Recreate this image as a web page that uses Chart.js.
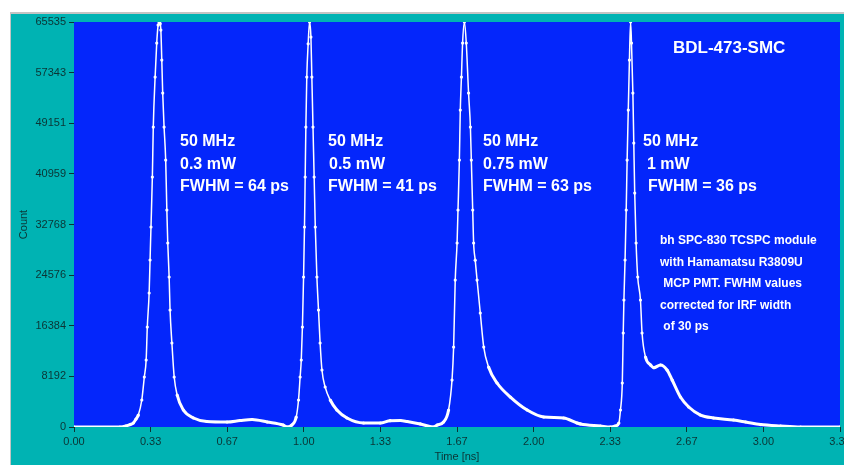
<!DOCTYPE html>
<html lang="en">
<head>
<meta charset="UTF-8">
<title>BDL-473-SMC pulse shape</title>
<script src="https://cdn.jsdelivr.net/npm/chart.js@4.4.1/dist/chart.umd.min.js"></script>
<style>
  html, body { margin: 0; padding: 0; background: #fff; }
  #wrap { width: 844px; height: 465px; }
</style>
</head>
<body>
<div id="wrap"><canvas id="pulse-chart" width="844" height="465"></canvas></div>
<script>
// time axis (ns) and photon counts (one line per pulse)
const timeNs = [
    0.000, 0.200, 0.226, 0.244, 0.258, 0.270, 0.280, 0.295, 0.306, 0.314, 0.319, 0.327, 0.331, 0.335, 0.341, 0.345,
    0.353, 0.360, 0.366, 0.370, 0.375, 0.378, 0.382, 0.386, 0.392, 0.399, 0.404, 0.408, 0.414, 0.418, 0.426, 0.436,
    0.449, 0.476, 0.520, 0.578, 0.666, 0.723, 0.775, 0.841, 0.910, 0.928,

    0.948, 0.967, 0.977, 0.984, 0.989, 0.994, 0.999, 1.003, 1.006, 1.009, 1.013, 1.019, 1.025, 1.031, 1.035, 1.040,
    1.045, 1.050, 1.057, 1.064, 1.071, 1.079, 1.093, 1.115, 1.144, 1.188, 1.260, 1.333, 1.376, 1.420, 1.450, 1.507, 1.564,

    1.580, 1.608, 1.630, 1.645, 1.652, 1.659, 1.667, 1.671, 1.677, 1.681, 1.686, 1.691, 1.699, 1.707, 1.717, 1.725,
    1.729, 1.735, 1.739, 1.746, 1.754, 1.768, 1.783, 1.804, 1.841, 1.899, 1.972, 2.044, 2.131, 2.189, 2.204, 2.291, 2.334,

    2.356, 2.371, 2.378, 2.386, 2.390, 2.393, 2.398, 2.403, 2.407, 2.412, 2.417, 2.422, 2.426, 2.432, 2.436, 2.440,
    2.446, 2.453, 2.465, 2.472, 2.487, 2.509, 2.523, 2.552, 2.581, 2.603, 2.639, 2.675, 2.726, 2.783, 2.870, 2.923,
    2.988, 3.075, 3.162, 3.333
];
const counts = [
    0, 0, 160, 400, 650, 1290, 1940, 4370, 8090, 10840, 16180, 21680, 27020, 32360, 40450, 48540,
    56630, 62130, 65040, 65535, 65200, 64230, 59380, 54040, 48540, 43200, 35110, 29770, 24270, 18930, 13590, 8090,
    5180, 2750, 1460, 890, 810, 1050, 1210, 810, 320, 0,

    320, 1620, 4370, 8090, 10840, 16180, 24270, 32360, 40450, 48540, 56630, 62000, 65535, 63100, 56630, 48540,
    40450, 32360, 24270, 18930, 13590, 9220, 6470, 4370, 2750, 1460, 650, 650, 1020, 1050, 890, 490, 0,

    320, 810, 2750, 7600, 12940, 23780, 29770, 35110, 43200, 51290, 56630, 62130, 65535, 62130, 54040, 48540,
    43200, 35110, 29770, 27000, 23780, 18450, 12940, 9710, 7120, 4850, 2750, 1620, 1460, 650, 490, 160, 0,

    160, 650, 2750, 7120, 15210, 20550, 27020, 35110, 43200, 51290, 59380, 65535, 62130, 54040, 45950, 37860,
    29770, 24270, 20550, 15210, 11330, 10030, 9590, 10030, 9220, 7600, 4850, 3240, 1940, 1460, 1130, 810,
    400, 160, 0, 0
];

const yTickValues = [0, 8192, 16384, 24576, 32768, 40959, 49151, 57343, 65535];
const yTickLabels = ['0', '8192', '16384', '24576', '32768', '40959', '49151', '57343', '65535'];
const xTickValues = [0, 1 / 3, 2 / 3, 1, 4 / 3, 5 / 3, 2, 7 / 3, 8 / 3, 3, 10 / 3];
const xTickLabels = ['0.00', '0.33', '0.67', '1.00', '1.33', '1.67', '2.00', '2.33', '2.67', '3.00', '3.33'];

const chartTitle = 'BDL-473-SMC';
const peakLabels = [
    ['50 MHz', '0.3 mW', 'FWHM = 64 ps'],
    ['50 MHz', '0.5 mW', 'FWHM = 41 ps'],
    ['50 MHz', '0.75 mW', 'FWHM = 63 ps'],
    ['50 MHz', '1 mW', 'FWHM = 36 ps']
];
const noteLines = [
    'bh SPC-830 TCSPC module',
    'with Hamamatsu R3809U',
    ' MCP PMT. FWHM values',
    'corrected for IRF width',
    ' of 30 ps'
];

const TEAL = '#00b3b3';
const PLOT_BLUE = '#0426fb';
const INK = '#0b3434';
const FONT = '"Liberation Sans", Arial, sans-serif';

// window frame + blue plot background
const framePlugin = {
    id: 'frame',
    beforeDraw(chart) {
        const { ctx, chartArea: a, width, height } = chart;
        ctx.save();
        ctx.fillStyle = '#fff';
        ctx.fillRect(0, 0, width, height);
        ctx.fillStyle = TEAL;
        ctx.fillRect(10, 12, width - 10, height - 12);
        ctx.fillStyle = '#c4c4c4';
        ctx.fillRect(10, 12, width - 10, 2);
        ctx.fillRect(10, 12, 1, height - 12);
        ctx.fillStyle = PLOT_BLUE;
        ctx.fillRect(a.left, a.top, a.right - a.left, a.bottom - a.top);
        ctx.restore();
    }
};

// white text written on the plot
const notesPlugin = {
    id: 'notes',
    afterDatasetsDraw(chart) {
        const ctx = chart.ctx;
        ctx.save();
        ctx.fillStyle = '#fff';
        ctx.textBaseline = 'middle';
        ctx.textAlign = 'left';

        ctx.font = 'bold 17px ' + FONT;
        ctx.fillText(chartTitle, 673, 48);

        const groupX = [180, 328, 483, 643];
        const indents = [[0, 0, 0], [0, 1, 0], [0, 0, 0], [0, 4, 5]];
        const rowY = [142, 164.5, 187];
        ctx.font = 'bold 16px ' + FONT;
        peakLabels.forEach((lines, g) => {
            lines.forEach((txt, r) => ctx.fillText(txt, groupX[g] + indents[g][r], rowY[r]));
        });

        ctx.font = 'bold 12px ' + FONT;
        noteLines.forEach((txt, i) => ctx.fillText(txt, 660, 241 + i * 21.4));
        ctx.restore();
    }
};

const ctx = document.getElementById('pulse-chart').getContext('2d');
new Chart(ctx, {
    type: 'line',
    data: {
        datasets: [{
            data: timeNs.map((t, i) => ({ x: t, y: counts[i] })),
            borderColor: '#fff',
            borderWidth: 3,
            cubicInterpolationMode: 'monotone',
            pointRadius: 1.6,
            pointBorderWidth: 0,
            pointBackgroundColor: '#fff',
            segment: {
                // steep flanks are thin dotted traces, flat parts a thick line
                borderWidth: c => Math.abs(c.p1.y - c.p0.y) > 2.5 * Math.abs(c.p1.x - c.p0.x) ? 1.5 : 3
            }
        }]
    },
    options: {
        responsive: false,
        animation: false,
        layout: { padding: { top: 22, right: 4, bottom: 0, left: 0 } },
        plugins: {
            legend: { display: false },
            tooltip: { enabled: false }
        },
        scales: {
            x: {
                type: 'linear',
                min: 0,
                max: 10 / 3,
                afterBuildTicks: s => { s.ticks = xTickValues.map(v => ({ value: v })); },
                afterFit: s => { s.height = 38; s.paddingLeft = 0; s.paddingRight = 0; },
                ticks: {
                    callback: (v, i) => xTickLabels[i],
                    autoSkip: false,
                    maxRotation: 0,
                    padding: 3,
                    color: INK,
                    font: { family: FONT, size: 11 }
                },
                grid: { drawOnChartArea: false, tickLength: 5, color: INK },
                border: { display: false },
                title: {
                    display: true,
                    text: 'Time [ns]',
                    color: INK,
                    font: { family: FONT, size: 11 },
                    padding: { top: 0, bottom: 1 }
                }
            },
            y: {
                min: 0,
                max: 65535,
                afterBuildTicks: s => { s.ticks = yTickValues.map(v => ({ value: v })); },
                afterFit: s => { s.width = 74; s.paddingTop = 0; s.paddingBottom = 0; },
                ticks: {
                    callback: (v, i) => yTickLabels[i],
                    padding: 3,
                    color: INK,
                    font: { family: FONT, size: 11 }
                },
                grid: { drawOnChartArea: false, tickLength: 5, color: INK },
                border: { display: false },
                title: {
                    display: true,
                    text: 'Count',
                    color: INK,
                    font: { family: FONT, size: 11 },
                    padding: { top: 17, bottom: 0 }
                }
            }
        }
    },
    plugins: [framePlugin, notesPlugin]
});
</script>
</body>
</html>
